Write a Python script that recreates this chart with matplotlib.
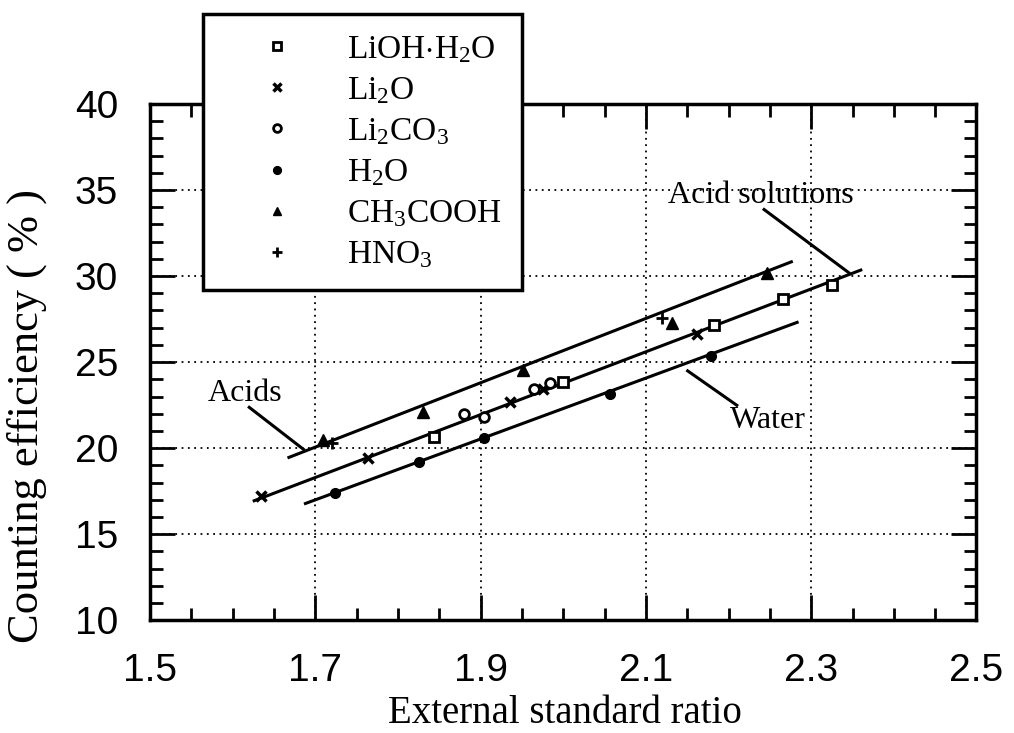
import numpy as np
import matplotlib
matplotlib.use("Agg")
import matplotlib.pyplot as plt
from matplotlib.ticker import MultipleLocator, FixedLocator, FormatStrFormatter

plt.rcParams['font.family'] = ['Liberation Serif', 'DejaVu Serif']
plt.rcParams['mathtext.fontset'] = 'custom'
plt.rcParams['mathtext.rm'] = 'Liberation Serif'
plt.rcParams['mathtext.it'] = 'Liberation Serif:italic'

#-------------Data-------------
lioh_x = [1.844, 2.000, 2.182, 2.266, 2.325]
lioh_y = [20.64, 23.82, 27.15, 28.65, 29.48]

li2o_x = [1.634, 1.764, 1.935, 1.975, 2.162]
li2o_y = [17.20, 19.40, 22.69, 23.45, 26.63]

li2co3_x = [1.880, 1.904, 1.965, 1.984]
li2co3_y = [21.96, 21.78, 23.43, 23.76]

h2o_x = [1.724, 1.826, 1.904, 2.057, 2.179]
h2o_y = [17.37, 19.17, 20.60, 23.14, 25.37]

acetic_x = [1.709, 1.830, 1.951, 2.131, 2.247]
acetic_y = [20.50, 22.10, 24.53, 27.27, 30.16]

nitric_x = [1.720, 2.120]
nitric_y = [20.27, 27.56]

# regression lines (end points)
acids_line_x = [1.668, 2.276]
acids_line_y = [19.46, 30.83]
solutions_line_x = [1.626, 2.360]
solutions_line_y = [16.94, 30.35]
water_line_x = [1.688, 2.283]
water_line_y = [16.78, 27.31]

xtick_values = [1.5, 1.7, 1.9, 2.1, 2.3, 2.5]
ytick_values = [10, 15, 20, 25, 30, 35, 40]

series = [
    (lioh_x, lioh_y, r"LiOH$\cdot$H$_2$O"),
    (li2o_x, li2o_y, r"Li$_2$O"),
    (li2co3_x, li2co3_y, r"Li$_2$CO$_3$"),
    (h2o_x, h2o_y, r"H$_2$O"),
    (acetic_x, acetic_y, r"CH$_3$COOH"),
    (nitric_x, nitric_y, r"HNO$_3$"),
]
styles = [
    dict(marker='s', ms=7, mfc='white', mec='black', mew=2),
    dict(marker='x', ms=7, mec='black', mew=2.5),
    dict(marker='o', ms=7, mfc='white', mec='black', mew=2),
    dict(marker='o', ms=7, mfc='black', mec='black'),
    dict(marker='^', ms=8, mfc='black', mec='black'),
    dict(marker='+', ms=9, mec='black', mew=2),
]

#-------------Plot-------------
fig = plt.figure(figsize=(10.14, 7.33), dpi=100)
ax = fig.add_axes([0.148, 0.154, 0.815, 0.704])

for (xs, ys, label), st in zip(series, styles):
    ax.plot(xs, ys, linestyle='none', color='black', label=label, zorder=3, **st)

for lx, ly in [(acids_line_x, acids_line_y),
               (solutions_line_x, solutions_line_y),
               (water_line_x, water_line_y)]:
    ax.plot(lx, ly, color='black', linewidth=2.2, zorder=2)

# labels with leader lines
ax.text(1.615, 23.2, "Acids", fontsize=23, ha='center', va='center')
ax.plot([1.620, 1.6856], [22.37, 19.93], color='black', linewidth=2.2)
ax.text(2.2385, 34.7, "Acid solutions", fontsize=23, ha='center', va='center')
ax.plot([2.243, 2.3454], [33.87, 30.20], color='black', linewidth=2.2)
ax.text(2.247, 21.63, "Water", fontsize=23, ha='center', va='center')
ax.plot([2.1505, 2.210], [24.49, 22.49], color='black', linewidth=2.2)

ax.set_xlim(1.5, 2.5)
ax.set_ylim(10, 40)
ax.xaxis.set_major_locator(FixedLocator(xtick_values))
ax.xaxis.set_major_formatter(FormatStrFormatter('%.1f'))
ax.xaxis.set_minor_locator(MultipleLocator(0.05))
ax.yaxis.set_major_locator(FixedLocator(ytick_values))
ax.yaxis.set_minor_locator(MultipleLocator(1))

ax.tick_params(which='both', direction='in', top=True, right=True, width=2, color='black')
ax.tick_params(which='major', length=18)
ax.tick_params(which='minor', length=9)
ax.tick_params(axis='x', which='major', pad=24)
ax.tick_params(axis='y', which='major', pad=23)
for lab in ax.get_xticklabels() + ax.get_yticklabels():
    lab.set_fontfamily(['Liberation Sans', 'DejaVu Sans'])
    lab.set_fontsize(28)

for sp in ax.spines.values():
    sp.set_linewidth(2.5)

ax.grid(which='major', linestyle=(0, (1, 2.5)), color='black', linewidth=1.3)

ax.set_xlabel("External standard ratio", fontsize=28, va='bottom')
ax.xaxis.set_label_coords(0.502, -0.216)
ax.set_ylabel("Counting efficiency ( % )", fontsize=32)
ax.yaxis.set_label_coords(-0.125, 0.395)

leg = ax.legend(loc='upper left', bbox_to_anchor=(203 / 1014, 1 - 14 / 733),
                bbox_transform=fig.transFigure, borderaxespad=0,
                fontsize=24, frameon=True, fancybox=False, edgecolor='black',
                framealpha=1, borderpad=0.6, labelspacing=0.31,
                handlelength=3.24, handletextpad=0.48, markerscale=0.8)
leg.get_frame().set_linewidth(2.5)
leg.set_zorder(10)

fig.savefig("out.png", dpi=100)
